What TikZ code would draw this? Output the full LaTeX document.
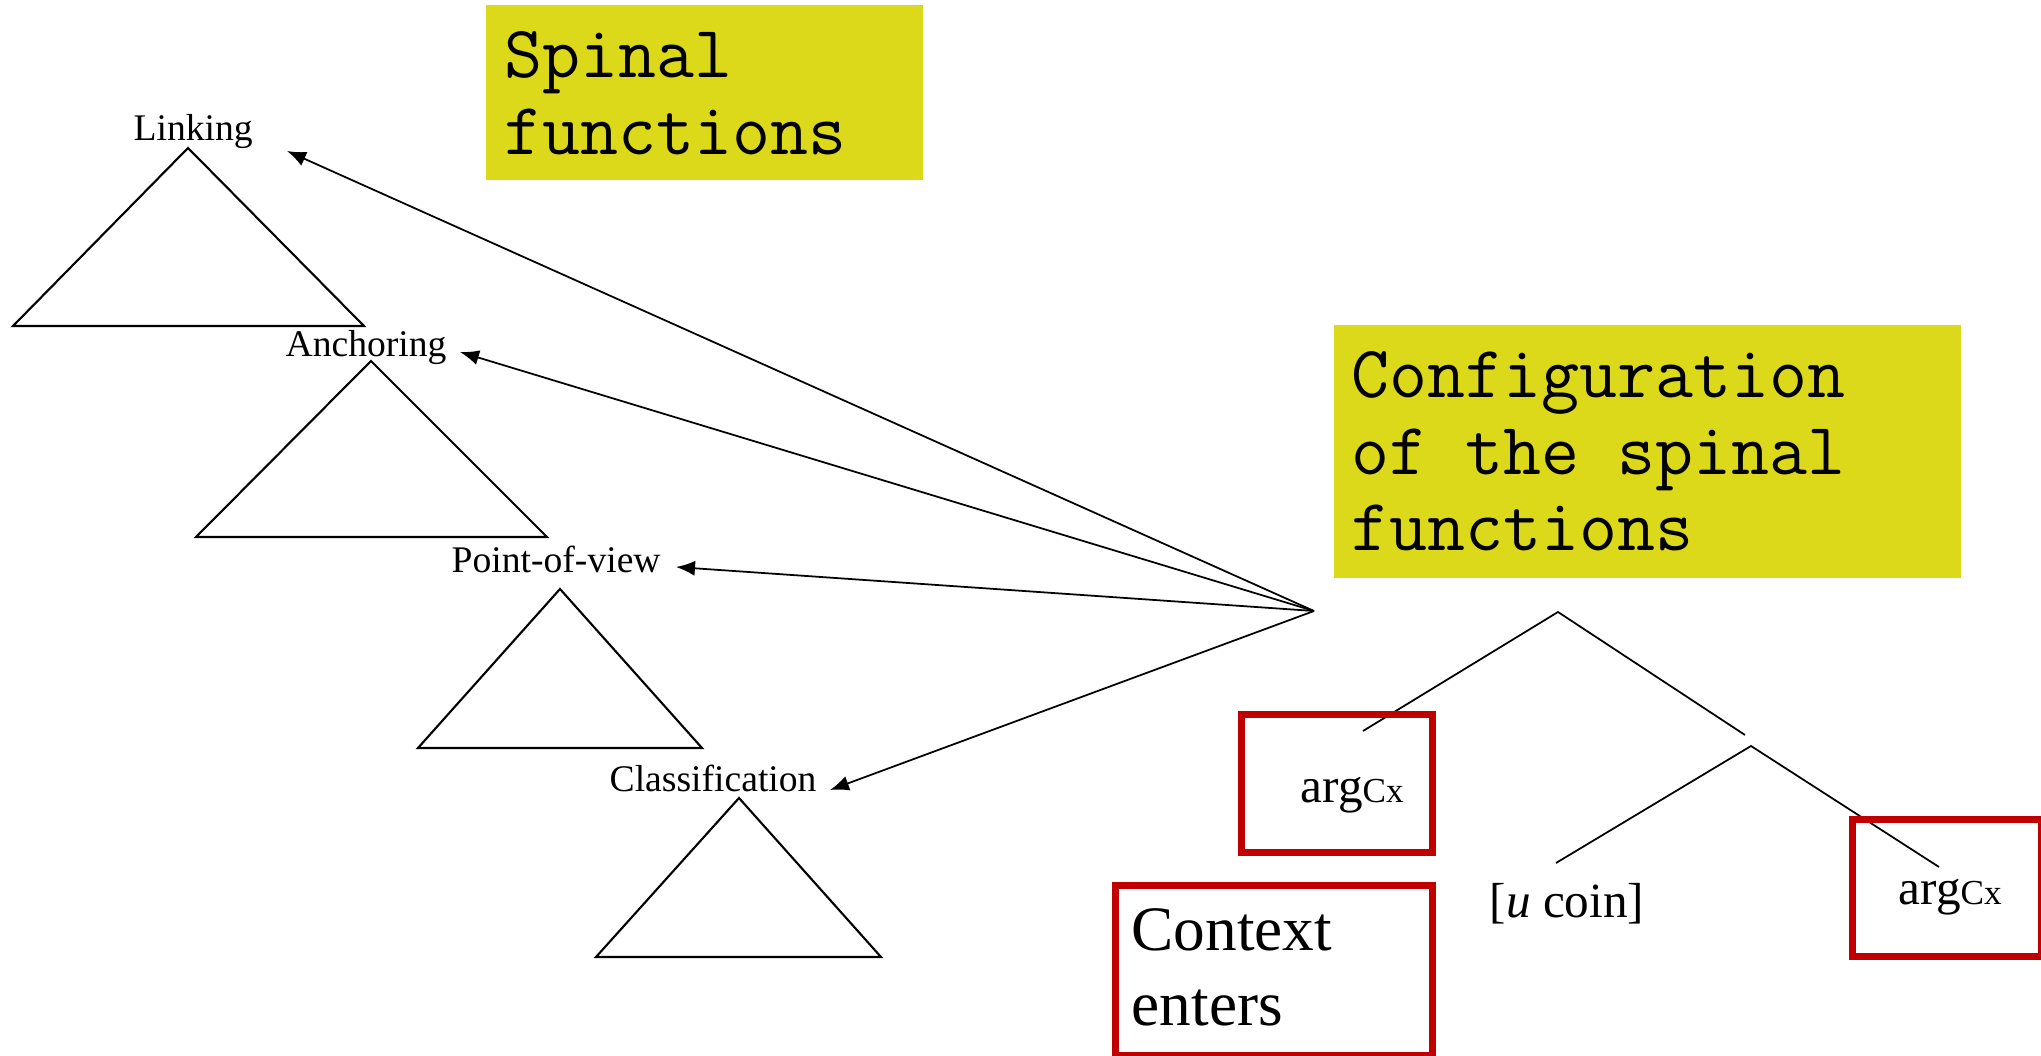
\documentclass[tikz,border=0pt]{standalone}
\usepackage{fontspec}
\setmainfont{Liberation Serif}
\usepackage{xcolor}
\usetikzlibrary{arrows.meta}
\definecolor{slideyellow}{RGB}{220,217,26}
\definecolor{slidered}{RGB}{192,0,0}
\tikzset{
    yellow-box/.style = {fill=slideyellow, rectangle, inner sep=0pt, anchor=north west},
    yellow-box-text/.style = {font=\ttfamily\fontsize{21}{21.8}\selectfont, align=left, inner sep=0pt, anchor=north west},
    red-box/.style = {draw=slidered, line width=0.7mm, rectangle, inner sep=0pt, anchor=north west},
    red-box-text/.style = {font=\fontsize{18}{21.3}\selectfont, align=left, inner sep=0pt, anchor=north west},
    spine-label/.style = {font=\fontsize{10.7}{12}\selectfont, inner sep=0pt, anchor=base west},
    leaf-label/.style = {font=\fontsize{14}{16}\selectfont, inner sep=0pt, anchor=base west},
    spine-tri/.style = {line width=0.6pt, line join=miter},
    fan-arrow/.style = {line width=0.5pt, -{Latex[length=5.4pt,width=4.3pt]}},
    tree-edge/.style = {line width=0.5pt},
}
\newcommand{\argcx}{arg{\fontsize{10}{12}\selectfont Cx}}

\begin{document}
\begin{tikzpicture}[x=0.1mm, y=-0.1mm]
\useasboundingbox (0,0) rectangle (2041,1056);

% titles
\node[yellow-box, minimum width=43.7mm, minimum height=17.5mm] (spinal-box) at (485,4) {};
\node[yellow-box-text] (spinal) at (504,31) {Spinal\\functions};
\node[yellow-box, minimum width=62.7mm, minimum height=25.3mm] (config-box) at (1333,324) {};
\node[yellow-box-text] (config) at (1351,351) {Configuration\\of the spinal\\functions};

% the spine
\node[spine-label] (link) at (133,141) {Linking};
\draw[spine-tri] (188,148) -- (364,326) -- (13,326) -- cycle;
\node[spine-label] (anch) at (285,357) {Anchoring};
\draw[spine-tri] (371,361) -- (547,537) -- (196,537) -- cycle;
\node[spine-label] (pov) at (451,573) {Point-of-view};
\draw[spine-tri] (560,589) -- (702,748) -- (418,748) -- cycle;
\node[spine-label] (class) at (609,791) {Classification};
\draw[spine-tri] (739,798) -- (881,957) -- (596,957) -- cycle;

\coordinate (fan) at (1314,611);
\coordinate (link-tip) at (287,151);
\coordinate (anch-tip) at (460,352);
\coordinate (pov-tip) at (676,567);
\coordinate (class-tip) at (830,790);
\foreach \t in {link-tip, anch-tip, pov-tip, class-tip}
    \draw[fan-arrow] (fan) -- (\t);

% the configuration tree
\coordinate (root) at (1558,612);
\coordinate (root-l) at (1363,731);
\coordinate (root-r) at (1745,735);
\coordinate (mid) at (1751,746);
\coordinate (mid-l) at (1556,863);
\coordinate (mid-r) at (1939,867);
\draw[tree-edge] (root-l) -- (root) -- (root-r);
\draw[tree-edge] (mid-l) -- (mid) -- (mid-r);

\node[red-box, minimum width=19.1mm, minimum height=13.8mm] (arg1-box) at (1237.5,711.5) {};
\node[leaf-label] (arg1) at (1300,803) {\argcx};
\node[leaf-label] (coin) at (1489,917) {[\textit{u} coin]};
\node[red-box, minimum width=18.9mm, minimum height=13.7mm] (arg2-box) at (1848.5,816.5) {};
\node[leaf-label] (arg2) at (1898,905) {\argcx};

\node[red-box, minimum width=31.7mm, minimum height=17.1mm] (context-box) at (1111.5,881.5) {};
\node[red-box-text] (context) at (1131,908) {Context\\enters};
\end{tikzpicture}
\end{document}
